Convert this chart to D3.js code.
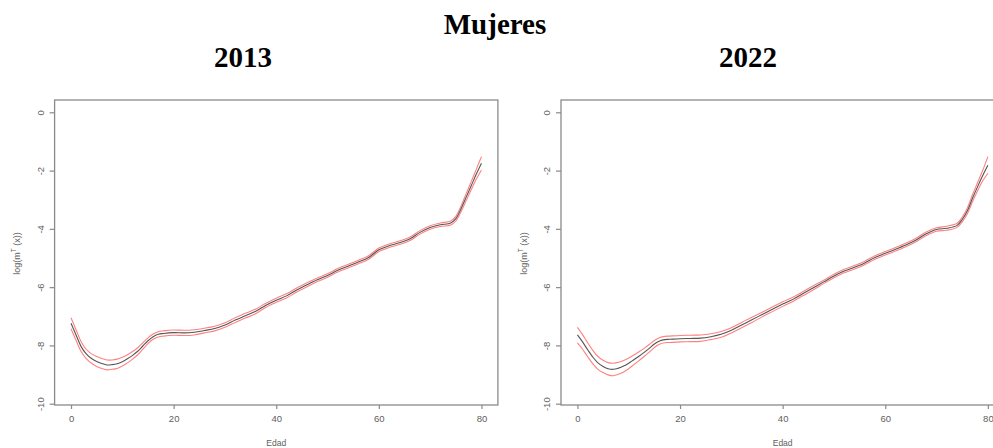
<!DOCTYPE html>
<html><head><meta charset="utf-8">
<script src="https://cdn.jsdelivr.net/npm/d3@7/dist/d3.min.js"></script>
<style>
html,body{margin:0;padding:0;background:#fff;}
svg{display:block;}
</style></head>
<body>
<svg id="chart" width="993" height="448"></svg>
<script>
const mainTitle = "Mujeres";
const panelTitles = ["2013", "2022"];
const xLabel = "Edad";
const xTicks = [0, 20, 40, 60, 80];
const yTicks = [0, -2, -4, -6, -8, -10];

const ages = [0,1,2,3,4,5,6,7,8,9,10,11,12,13,14,15,16,17,18,20,22,24,26,28,30,32,34,36,38,40,42,44,46,48,50,52,54,56,58,60,62,64,66,68,70,72,74,75,76,77,78,79,80];

const fit2013 = [-7.24,-7.65,-8.05,-8.30,-8.45,-8.55,-8.62,-8.67,-8.66,-8.63,-8.56,-8.46,-8.34,-8.20,-8.02,-7.84,-7.70,-7.62,-7.59,-7.56,-7.57,-7.55,-7.49,-7.42,-7.30,-7.13,-6.98,-6.83,-6.62,-6.45,-6.30,-6.10,-5.92,-5.75,-5.60,-5.42,-5.28,-5.14,-4.98,-4.72,-4.58,-4.48,-4.35,-4.12,-3.95,-3.86,-3.80,-3.65,-3.32,-2.92,-2.52,-2.12,-1.75];
const up2013  = [-7.05,-7.47,-7.88,-8.14,-8.29,-8.38,-8.45,-8.50,-8.50,-8.47,-8.41,-8.32,-8.21,-8.08,-7.91,-7.74,-7.61,-7.53,-7.50,-7.47,-7.48,-7.46,-7.41,-7.34,-7.22,-7.05,-6.90,-6.75,-6.55,-6.38,-6.23,-6.03,-5.85,-5.69,-5.54,-5.36,-5.22,-5.08,-4.92,-4.66,-4.52,-4.42,-4.29,-4.06,-3.89,-3.80,-3.73,-3.57,-3.22,-2.80,-2.38,-1.95,-1.52];
const lo2013  = [-7.43,-7.83,-8.22,-8.46,-8.61,-8.72,-8.79,-8.84,-8.82,-8.79,-8.71,-8.60,-8.47,-8.32,-8.13,-7.94,-7.79,-7.71,-7.68,-7.65,-7.66,-7.64,-7.57,-7.50,-7.38,-7.21,-7.06,-6.91,-6.69,-6.52,-6.37,-6.17,-5.99,-5.81,-5.66,-5.48,-5.34,-5.20,-5.04,-4.78,-4.64,-4.54,-4.41,-4.18,-4.01,-3.92,-3.87,-3.73,-3.42,-3.04,-2.66,-2.29,-1.98];

const fit2022 = [-7.64,-7.88,-8.15,-8.40,-8.60,-8.72,-8.80,-8.82,-8.78,-8.71,-8.61,-8.49,-8.37,-8.24,-8.10,-7.95,-7.85,-7.80,-7.79,-7.77,-7.76,-7.75,-7.70,-7.62,-7.48,-7.30,-7.12,-6.94,-6.76,-6.58,-6.42,-6.22,-6.02,-5.82,-5.62,-5.45,-5.32,-5.17,-4.98,-4.84,-4.70,-4.55,-4.38,-4.17,-4.02,-3.98,-3.88,-3.68,-3.38,-2.95,-2.55,-2.17,-1.82];
const up2022  = [-7.38,-7.63,-7.91,-8.17,-8.38,-8.51,-8.59,-8.61,-8.58,-8.52,-8.43,-8.33,-8.22,-8.10,-7.97,-7.83,-7.74,-7.69,-7.68,-7.66,-7.65,-7.64,-7.60,-7.52,-7.39,-7.21,-7.03,-6.86,-6.68,-6.50,-6.35,-6.15,-5.95,-5.76,-5.56,-5.39,-5.26,-5.11,-4.92,-4.78,-4.64,-4.49,-4.32,-4.11,-3.96,-3.91,-3.81,-3.60,-3.28,-2.83,-2.41,-1.99,-1.52];
const lo2022  = [-7.91,-8.13,-8.39,-8.63,-8.82,-8.93,-9.01,-9.04,-8.99,-8.91,-8.80,-8.66,-8.52,-8.38,-8.23,-8.07,-7.96,-7.91,-7.90,-7.88,-7.87,-7.86,-7.80,-7.72,-7.57,-7.39,-7.21,-7.02,-6.84,-6.66,-6.49,-6.29,-6.09,-5.88,-5.68,-5.51,-5.38,-5.23,-5.04,-4.90,-4.76,-4.61,-4.44,-4.23,-4.08,-4.05,-3.95,-3.76,-3.48,-3.07,-2.69,-2.35,-2.09];

const panels = [
  {title: panelTitles[0], fit: fit2013, up: up2013, lo: lo2013},
  {title: panelTitles[1], fit: fit2022, up: up2022, lo: lo2022}
];

const svg = d3.select("#chart");
const serif = "'Liberation Serif','Times New Roman',serif";
const sans = "'Liberation Sans',Arial,sans-serif";

svg.append("text").attr("x", 495).attr("y", 34)
  .attr("text-anchor", "middle").attr("font-family", serif)
  .attr("font-weight", "bold").attr("font-size", 29).attr("fill", "#000")
  .text(mainTitle);

const layout = [
  {left: 54.6, titleX: 243},
  {left: 561.0, titleX: 748}
];
const plotW = 443.3, boxTop = 100, boxBottom = 405;
const axisGray = "#8a8a8a", textGray = "#606060";

panels.forEach((p, i) => {
  const L = layout[i].left;
  const x = d3.scaleLinear().domain([-3.2, 83.2]).range([L, L + plotW]);
  const y = d3.scaleLinear().domain([-10, 0]).range([403.7, 112.3]);

  svg.append("text").attr("x", layout[i].titleX).attr("y", 67)
    .attr("text-anchor", "middle").attr("font-family", serif)
    .attr("font-weight", "bold").attr("font-size", 29).attr("fill", "#000")
    .text(p.title);

  svg.append("rect").attr("x", L).attr("y", boxTop)
    .attr("width", plotW).attr("height", boxBottom - boxTop)
    .attr("fill", "none").attr("stroke", axisGray).attr("stroke-width", 1.3);

  const ya = svg.append("g").attr("transform", `translate(${L},0)`)
    .call(d3.axisLeft(y).tickValues(yTicks).tickSize(5).tickFormat(d3.format("d")));
  ya.select(".domain").remove();
  ya.selectAll(".tick line").attr("stroke", axisGray).attr("stroke-width", 1.2);
  ya.selectAll(".tick text")
    .attr("x", null).attr("dy", null)
    .attr("transform", "translate(-14.6,0) rotate(-90)")
    .attr("text-anchor", "middle").attr("dominant-baseline", "central")
    .attr("font-family", sans).attr("font-size", 9.5).attr("fill", textGray)
    .text(d => d === 0 ? "0" : String(d).replace("−", "-"));

  const xa = svg.append("g").attr("transform", `translate(0,${boxBottom})`)
    .call(d3.axisBottom(x).tickValues(xTicks).tickSize(4).tickFormat(d3.format("d")));
  xa.select(".domain").remove();
  xa.selectAll(".tick line").attr("stroke", axisGray).attr("stroke-width", 1.2);
  xa.selectAll(".tick text").attr("y", 13).attr("dy", null)
    .attr("dominant-baseline", "central")
    .attr("font-family", sans).attr("font-size", 9.5).attr("fill", textGray);

  svg.append("text").attr("x", L + plotW / 2).attr("y", 446)
    .attr("text-anchor", "middle").attr("font-family", sans)
    .attr("font-size", 8.5).attr("fill", textGray).text(xLabel);

  const yl = svg.append("text")
    .attr("transform", `translate(${L - 37.5},${(boxTop + boxBottom) / 2 + 1}) rotate(-90)`)
    .attr("text-anchor", "middle").attr("dominant-baseline", "central")
    .attr("font-family", sans).attr("font-size", 9).attr("fill", textGray);
  yl.append("tspan").text("log(m");
  yl.append("tspan").attr("baseline-shift", "super").attr("font-size", 6.5).text("T");
  yl.append("tspan").text(" (x))");

  const line = d3.line().x((d, k) => x(ages[k])).y(d => y(d)).curve(d3.curveCatmullRom);
  const g = svg.append("g");
  [p.up, p.lo].forEach(arr => {
    g.append("path").datum(arr).attr("d", line)
      .attr("fill", "none").attr("stroke", "#ff4a4a").attr("stroke-opacity", 0.7)
      .attr("stroke-width", 1.1);
  });
  g.append("path").datum(p.fit).attr("d", line)
    .attr("fill", "none").attr("stroke", "#555").attr("stroke-width", 1.1);
});
</script>
</body></html>
